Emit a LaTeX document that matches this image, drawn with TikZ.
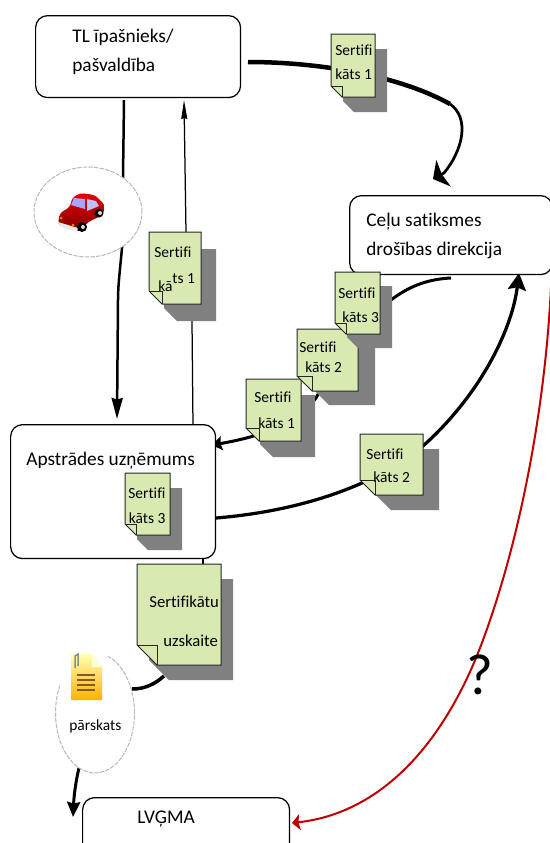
\documentclass[tikz,border=0pt]{standalone}
\usepackage{fontspec}
\setmainfont{Carlito}[Ligatures=NoCommon]
\usetikzlibrary{arrows.meta,shapes.geometric}
\definecolor{notegreen}{HTML}{D8E9B2}
\definecolor{noteshade}{HTML}{808080}
\definecolor{redline}{HTML}{C00000}
\tikzset{
	bigbox/.style={draw=black, fill=white, line width=.025cm, rounded corners=.24cm, anchor=north west, inner sep=0},
	bubble/.style={ellipse, draw=black!28, fill=white, line width=.02cm, dash pattern=on 2.5pt off .7pt, inner sep=0},
	boxtext/.style={anchor=west, inner sep=0, font=\fontsize{11}{13}\selectfont},
	notetext/.style={anchor=west, inner sep=0, font=\fontsize{8.8}{10}\selectfont},
	uzstext/.style={anchor=west, inner sep=0, font=\fontsize{9.5}{11}\selectfont},
}
\newcommand{\certnote}[7]{
	\fill[noteshade]({#1+#5},{#2+#6})--({#3+#5},{#2+#6})--({#3+#5},{#4+#6})--({#1+#7+#5},{#4+#6})--({#1+#5},{#4-#7+#6})--cycle;
	\filldraw[draw=black!85, fill=notegreen, line width=.02cm](#1,#2)--(#3,#2)--(#3,#4)--({#1+#7},#4)--(#1,{#4-#7})--cycle;
	\draw[black!85, line width=.02cm](#1,{#4-#7})--({#1+#7},{#4-#7})--({#1+#7},#4);
}
\begin{document}
\begin{tikzpicture}[x=.02cm,y=-.02cm]
	\useasboundingbox(0,0) rectangle (550,843);
	\coordinate (ownerout) at (248,62);
	\coordinate (bendtop) at (450,104);
	\coordinate (trackin) at (444,173);
	\coordinate (trackend) at (433,179);
	\coordinate (ownerdown) at (124,100);
	\coordinate (plantin) at (117,419);
	\coordinate (plantup) at (193,426);
	\coordinate (ownerin) at (184,100);
	\coordinate (trackout) at (451,278);
	\coordinate (plantright) at (212,445);
	\coordinate (plantout) at (216,518);
	\coordinate (trackback) at (519,273);
	\coordinate (plantdown) at (203,557);
	\coordinate (listin) at (203,566);
	\coordinate (listout) at (164,676);
	\coordinate (reportin) at (132,689);
	\coordinate (reportout) at (79,768);
	\coordinate (lvgmain) at (73,817);
	\coordinate (redout) at (552,262);
	\coordinate (redbend) at (483,640);
	\coordinate (redin) at (292,823);

	\draw[line width=.09cm](ownerout) .. controls (320,62) and (400,76) .. (bendtop);
	\draw[line width=.055cm, -{Stealth[length=.24cm,width=.6cm,inset=.04cm]}](bendtop) .. controls (470,118) and (463,150) .. (trackin)--(trackend);
	\draw[line width=.05cm, -{Stealth[length=.42cm,width=.22cm,inset=.03cm]}](ownerdown)--(123,178)--(122,248) .. controls (120,270) and (118,285) .. (118,300)--(plantin);
	\draw[line width=.025cm, -{Stealth[length=.38cm,width=.12cm,inset=.02cm]}](plantup)--(192,321)--(186,232)--(ownerin);
	\draw[line width=.06cm, -{Stealth[length=.2cm,width=.28cm,inset=.03cm]}](trackout) .. controls (410,280) and (370,300) .. (316,398) .. controls (300,420) and (270,435) .. (plantright);
	\draw[line width=.065cm, -{Stealth[length=.34cm,width=.36cm,inset=.05cm]}](plantout) .. controls (290,512) and (370,490) .. (423,446) .. controls (480,395) and (512,330) .. (trackback);
	\draw[line width=.04cm](plantdown)--(listin);
	\draw[line width=.07cm](listout) .. controls (155,684) and (145,689) .. (reportin);
	\draw[line width=.06cm, -{Stealth[length=.3cm,width=.26cm,inset=.03cm]}](reportout) .. controls (76,780) and (74,795) .. (lvgmain);

	\node[bigbox, minimum width=4.1cm, minimum height=1.64cm] (owner) at (35,15) {};
	\node[bigbox, minimum width=4.06cm, minimum height=1.58cm] (track) at (349,195) {};
	\node[bigbox, minimum width=4.1cm, minimum height=2.68cm] (plant) at (10,424) {};
	\node[bigbox, minimum width=4.14cm, minimum height=1.4cm] (lvgma) at (82,797) {};
	\draw[redline, line width=.04cm, -{Stealth[length=.16cm,width=.32cm,inset=.03cm]}](redout) .. controls (548,400) and (520,540) .. (redbend) .. controls (450,730) and (390,812) .. (redin);

	\node[boxtext] (ownera) at (72,37) {TL īpašnieks/};
	\node[boxtext] (ownerb) at (72,66) {pašvaldība};
	\node[boxtext] (tracka) at (366,222) {Ceļu satiksmes};
	\node[boxtext] (trackb) at (366,250) {drošības direkcija};
	\node[boxtext] (planta) at (26,461) {Apstrādes uzņēmums};
	\node[boxtext] (lvgmat) at (137,819) {LVĢMA};

	\node[bubble, minimum width=2.16cm, minimum height=1.8cm] (carbubble) at (88,212) {};
	\shade[top color=red!90!black, bottom color=red!50!black, rounded corners=2pt](58,222)--(60,213)--(70,207)--(72,198)--(80,193)--(95,195)--(105,205)--(103,215)--(88,222)--(80,232)--(60,226)--cycle;
	\fill[blue!35!white](71,205)--(74,198)--(85,199)--(85,209)--cycle;
	\fill[blue!25!white](87,199)--(96,201)--(99,206)--(87,211)--cycle;
	\fill[black!8](58,222)--(60,226)--(77,232)--(78,228)--cycle;
	\fill[black](82,227) circle (5);
	\fill[black!15](83,227) circle (2);
	\fill[black](99,213) circle (4.5);
	\fill[black!15](100,213) circle (2);
	\fill[orange](61,218) circle (1.5);
	\fill[orange](73,225) circle (1.5);

	\node[bubble, minimum width=1.58cm, minimum height=2.4cm] (reportbubble) at (95,713) {};
	\fill[white](60,650) rectangle (108,704);
	\shade[top color=yellow!30!white, bottom color=orange!60!yellow](71,654)--(92,654)--(102,667)--(102,700)--(71,700)--cycle;
	\fill[yellow!12!white](92,654)--(102,667)--(92,667)--cycle;
	\draw[black!45, line width=.03cm](75,668)--(75,656)--(78,654)--(78,666);
	\foreach \liney in {675,680,685,690}
		\draw[brown!70!black, line width=.03cm](77,\liney)--(95,\liney);
	\node[anchor=west, inner sep=0, font=\fontsize{8.8}{10}\selectfont] (report) at (69,726) {pārskats};

	\certnote{331}{34}{375}{97}{12}{15}{11}
	\node[notetext] (certa) at (335,50) {Sertifi};
	\node[notetext] (certb) at (335,74) {kāts 1};
	\certnote{149}{232}{201}{304}{15}{17}{13}
	\node[notetext] (certc) at (154,252) {Sertifi};
	\node[notetext] (certd) at (158,286) {kā};
	\node[notetext] (certe) at (172,279) {ts 1};
	\certnote{246}{379}{301}{441}{14}{16}{13}
	\node[notetext] (certf) at (254,397) {Sertifi};
	\node[notetext] (certg) at (258,423) {kāts 1};
	\certnote{297}{329}{358}{391}{17}{14}{15}
	\node[notetext] (certh) at (299,347) {Sertifi};
	\node[notetext] (certi) at (305,367) {kāts 2};
	\certnote{335}{272}{380}{334}{12}{14}{11}
	\node[notetext] (certj) at (338,293) {Sertifi};
	\node[notetext] (certk) at (342,317) {kāts 3};
	\certnote{360}{434}{423}{495}{16}{15}{15}
	\node[notetext] (certl) at (366,454) {Sertifi};
	\node[notetext] (certm) at (373,477) {kāts 2};
	\certnote{125}{473}{170}{535}{12}{15}{11}
	\node[notetext] (certn) at (128,493) {Sertifi};
	\node[notetext] (certo) at (128.5,518) {kāts 3};
	\certnote{137}{564}{221}{665}{12}{15}{20}
	\node[uzstext] (lista) at (149,602) {Sertifikātu};
	\node[uzstext] (listb) at (163,641) {uzskaite};

	\node[inner sep=0, font=\fontsize{33}{36}\selectfont] (query) at (480,675) {?};
\end{tikzpicture}
\end{document}
